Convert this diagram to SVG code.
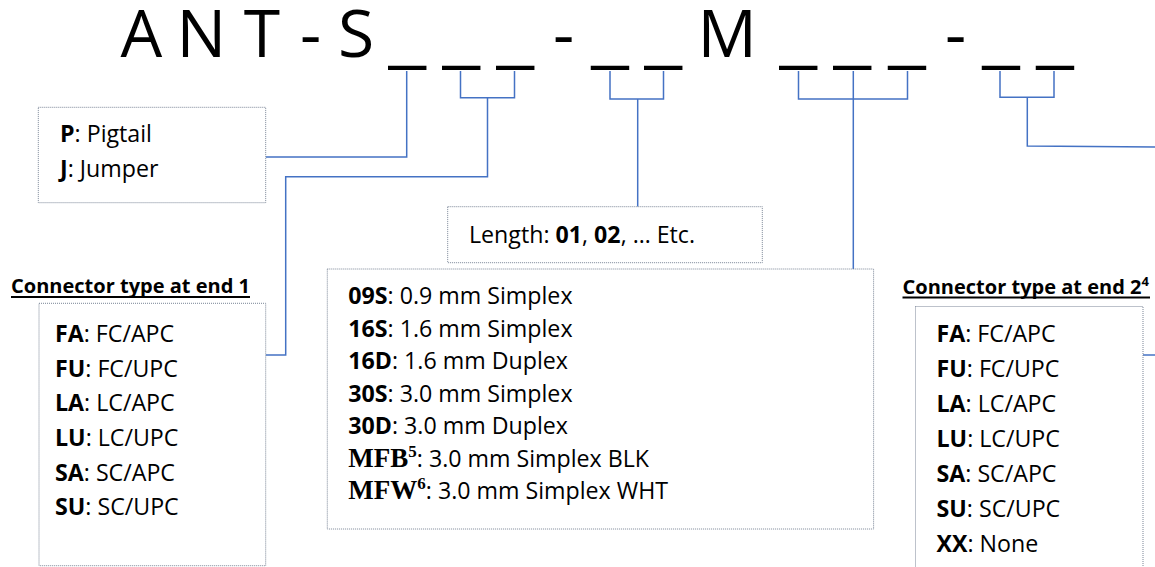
<svg xmlns="http://www.w3.org/2000/svg" width="1155" height="567" viewBox="0 0 1155 567">
<style>
text { font-family: "Open Sans", "Liberation Sans", sans-serif; fill: #000; }
.title { font-size: 66px; }
.us { font-family: "Liberation Sans", Arial, sans-serif; }
.box { fill: #fff; stroke: #7a8596; stroke-width: 1; stroke-dasharray: 1 1; }
.lbl { font-size: 23.2px; }
.b { font-weight: bold; }
.serif { font-family: "Liberation Serif", "DejaVu Serif", serif; font-weight: bold; font-size: 27px; }
.sup { font-family: "Liberation Serif", "DejaVu Serif", serif; font-weight: bold; font-size: 17px; }
.hdr { font-size: 20px; font-weight: bold; }
.ul { stroke: #000; stroke-width: 2; }
.conn { fill: none; stroke: #4472C4; stroke-width: 1.5; }
</style>
<rect width="1155" height="567" fill="#fff"/>

<g id="title">
<text class="title" y="57.3"><tspan x="120.5">A</tspan><tspan x="176.5">N</tspan><tspan x="243.7">T</tspan><tspan x="300">-</tspan><tspan x="338">S</tspan><tspan class="us" x="389">_</tspan><tspan class="us" x="443">_</tspan><tspan class="us" x="497">_</tspan><tspan x="553">-</tspan><tspan class="us" x="591.7">_</tspan><tspan class="us" x="645">_</tspan><tspan x="697.5">M</tspan><tspan class="us" x="780">_</tspan><tspan class="us" x="834">_</tspan><tspan class="us" x="888.7">_</tspan><tspan x="945">-</tspan><tspan class="us" x="982.7">_</tspan><tspan class="us" x="1036.7">_</tspan></text>
</g>

<g id="connectors">
<path class="conn" d="M406.7,71 V157 H265.7"/>
<path class="conn" d="M460.5,71 V97.7 H514.5 V71"/>
<path class="conn" d="M487.5,97.7 V176.7 H285.7 V355 H265.7"/>
<path class="conn" d="M610,71 V99 H663.5 V71"/>
<path class="conn" d="M637.7,99 V206.7"/>
<path class="conn" d="M798.5,71 V99 H907.5 V71"/>
<path class="conn" d="M853.3,71 V269"/>
<path class="conn" d="M1000,71 V97.3 H1054 V71"/>
<path class="conn" d="M1027.3,97.3 V146 L1155,147"/>
<path class="conn" d="M1143,355 H1155"/>
</g>

<g id="node-assembly">
<rect class="box" x="38.3" y="107.3" width="227.4" height="95.4"/>
<text class="lbl" x="60" y="141.7"><tspan class="b">P</tspan>: Pigtail</text>
<text class="lbl" x="60" y="176.7"><tspan class="b">J</tspan>: Jumper</text>
</g>

<g id="node-end1">
<text class="hdr" x="11" y="293" textLength="239" lengthAdjust="spacingAndGlyphs">Connector type at end 1</text>
<line class="ul" x1="11" y1="297" x2="250" y2="297"/>
<rect class="box" x="39" y="303.3" width="226.7" height="262.4"/>
<text class="lbl" x="55" y="342"><tspan class="b">FA</tspan>: FC/APC</text>
<text class="lbl" x="55" y="376.7"><tspan class="b">FU</tspan>: FC/UPC</text>
<text class="lbl" x="55" y="411.3"><tspan class="b">LA</tspan>: LC/APC</text>
<text class="lbl" x="55" y="446"><tspan class="b">LU</tspan>: LC/UPC</text>
<text class="lbl" x="55" y="480.6"><tspan class="b">SA</tspan>: SC/APC</text>
<text class="lbl" x="55" y="515.3"><tspan class="b">SU</tspan>: SC/UPC</text>
</g>

<g id="node-length">
<rect class="box" x="447.7" y="206.7" width="314.6" height="56"/>
<text class="lbl" x="469" y="242.7">Length: <tspan class="b">01</tspan>, <tspan class="b">02</tspan>, … Etc.</text>
</g>

<g id="node-cable">
<rect class="box" x="327.3" y="269" width="546.3" height="260"/>
<text class="lbl" x="348.3" y="304"><tspan class="b">09S</tspan>: 0.9 mm Simplex</text>
<text class="lbl" x="348.3" y="336.5"><tspan class="b">16S</tspan>: 1.6 mm Simplex</text>
<text class="lbl" x="348.3" y="369"><tspan class="b">16D</tspan>: 1.6 mm Duplex</text>
<text class="lbl" x="348.3" y="401.5"><tspan class="b">30S</tspan>: 3.0 mm Simplex</text>
<text class="lbl" x="348.3" y="434"><tspan class="b">30D</tspan>: 3.0 mm Duplex</text>
<text class="lbl" x="348.3" y="466.5"><tspan class="serif">MFB</tspan><tspan class="sup" dy="-10">5</tspan><tspan dy="10">: 3.0 mm Simplex BLK</tspan></text>
<text class="lbl" x="348.3" y="499"><tspan class="serif">MFW</tspan><tspan class="sup" dy="-10">6</tspan><tspan dy="10">: 3.0 mm Simplex WHT</tspan></text>
</g>

<g id="node-end2">
<text class="hdr" x="902.5" y="293.5"><tspan textLength="239" lengthAdjust="spacingAndGlyphs">Connector type at end 2</tspan><tspan font-size="13" dy="-8">4</tspan></text>
<line class="ul" x1="902.5" y1="297.5" x2="1150" y2="297.5"/>
<rect class="box" x="915.5" y="306.5" width="227.5" height="275"/>
<text class="lbl" x="936.5" y="341.7"><tspan class="b">FA</tspan>: FC/APC</text>
<text class="lbl" x="936.5" y="376.7"><tspan class="b">FU</tspan>: FC/UPC</text>
<text class="lbl" x="936.5" y="411.7"><tspan class="b">LA</tspan>: LC/APC</text>
<text class="lbl" x="936.5" y="446.7"><tspan class="b">LU</tspan>: LC/UPC</text>
<text class="lbl" x="936.5" y="481.7"><tspan class="b">SA</tspan>: SC/APC</text>
<text class="lbl" x="936.5" y="516.7"><tspan class="b">SU</tspan>: SC/UPC</text>
<text class="lbl" x="936.5" y="551.7"><tspan class="b">XX</tspan>: None</text>
</g>
</svg>
